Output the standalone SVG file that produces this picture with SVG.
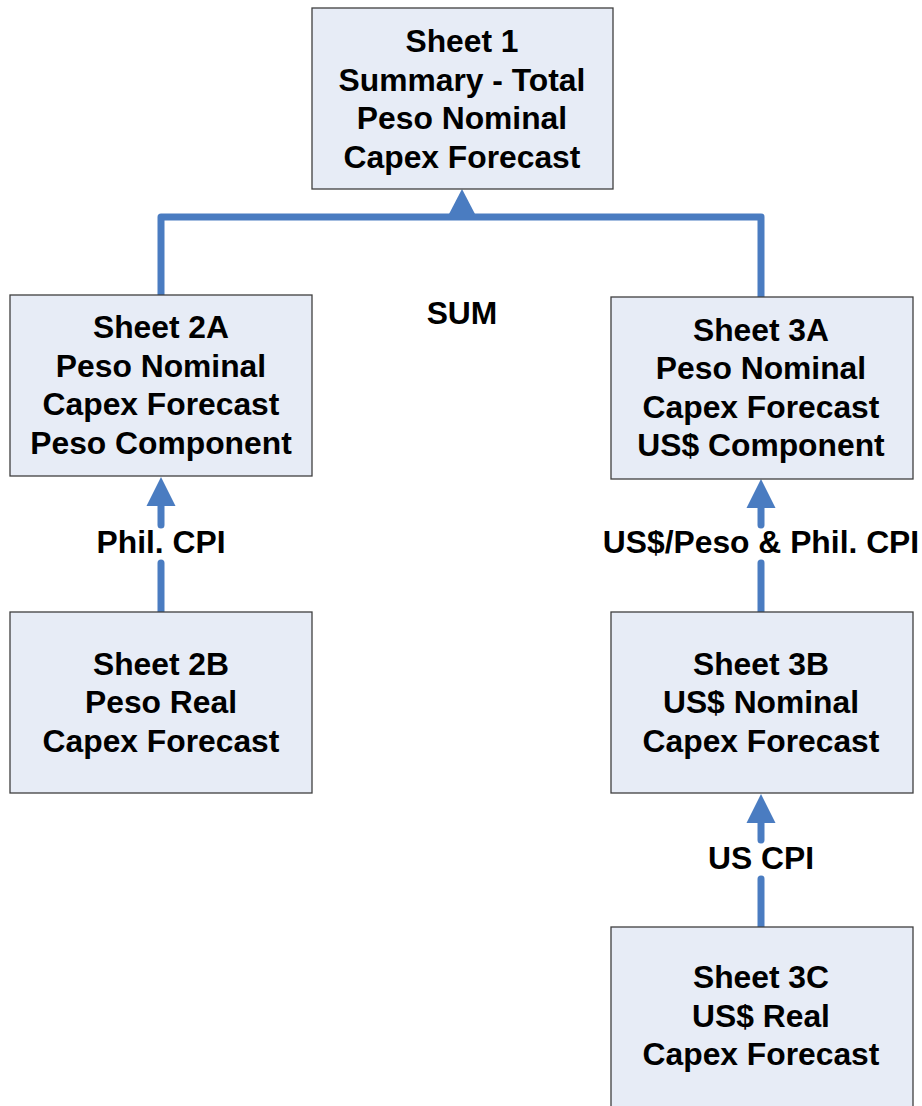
<svg xmlns="http://www.w3.org/2000/svg" width="922" height="1106" viewBox="0 0 922 1106">
<style>
.box{fill:#E7ECF6;stroke:#3F3F3F;stroke-width:1.3}
.t{font-family:"Liberation Sans",Arial,sans-serif;font-weight:bold;font-size:31.8px;fill:#000;text-anchor:middle}
.c{fill:none;stroke:#4A7CC1;stroke-width:7;stroke-linecap:round;stroke-linejoin:round}
.h{fill:#4A7CC1}
</style>
<rect width="922" height="1106" fill="#fff"/>
<g id="connectors">
<path class="c" d="M161,295 V217 H761 V297"/>
<polygon class="h" points="462,189 449,214 475,214"/>
<path class="c" d="M161,612 V563 M161,525 V500"/>
<polygon class="h" points="161,477 146.5,506 175.5,506"/>
<path class="c" d="M761,612 V563 M761,525 V502"/>
<polygon class="h" points="761,479 746.5,508 775.5,508"/>
<path class="c" d="M761,927 V879 M761,840 V818"/>
<polygon class="h" points="761,794 746.5,823 775.5,823"/>
<text class="t" x="462" y="324">SUM</text>
<text class="t" x="161" y="553">Phil. CPI</text>
<text class="t" x="761" y="553">US$/Peso &amp; Phil. CPI</text>
<text class="t" x="761" y="869">US CPI</text>
</g>
<g id="sheet1">
<rect class="box" x="312" y="8" width="301" height="181"/>
<text class="t" x="462" y="52">Sheet 1</text>
<text class="t" x="462" y="91">Summary - Total</text>
<text class="t" x="462" y="129">Peso Nominal</text>
<text class="t" x="462" y="168">Capex Forecast</text>
</g>
<g id="sheet2a">
<rect class="box" x="10" y="295" width="302" height="181"/>
<text class="t" x="161" y="338">Sheet 2A</text>
<text class="t" x="161" y="377">Peso Nominal</text>
<text class="t" x="161" y="415">Capex Forecast</text>
<text class="t" x="161" y="454">Peso Component</text>
</g>
<g id="sheet2b">
<rect class="box" x="10" y="612" width="302" height="181"/>
<text class="t" x="161" y="675">Sheet 2B</text>
<text class="t" x="161" y="713">Peso Real</text>
<text class="t" x="161" y="752">Capex Forecast</text>
</g>
<g id="sheet3a">
<rect class="box" x="611" y="297" width="302" height="182"/>
<text class="t" x="761" y="341">Sheet 3A</text>
<text class="t" x="761" y="379">Peso Nominal</text>
<text class="t" x="761" y="418">Capex Forecast</text>
<text class="t" x="761" y="456">US$ Component</text>
</g>
<g id="sheet3b">
<rect class="box" x="611" y="612" width="302" height="181"/>
<text class="t" x="761" y="675">Sheet 3B</text>
<text class="t" x="761" y="713">US$ Nominal</text>
<text class="t" x="761" y="752">Capex Forecast</text>
</g>
<g id="sheet3c">
<rect class="box" x="611" y="927" width="302" height="200"/>
<text class="t" x="761" y="988">Sheet 3C</text>
<text class="t" x="761" y="1027">US$ Real</text>
<text class="t" x="761" y="1065">Capex Forecast</text>
</g>
</svg>
